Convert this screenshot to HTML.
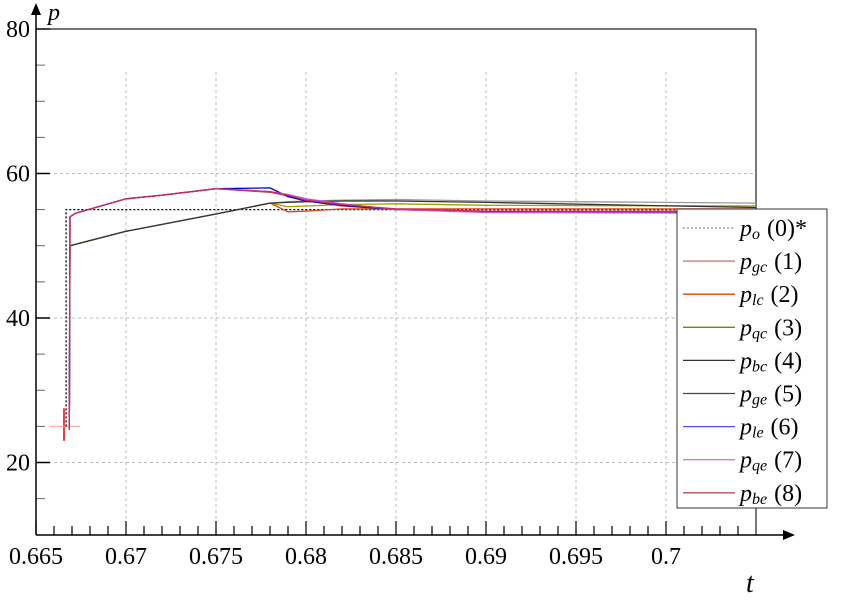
<!DOCTYPE html>
<html><head><meta charset="utf-8"><style>
body{margin:0;background:#fff;width:846px;height:599px;overflow:hidden}
svg, svg text, svg tspan{font-family:"Liberation Serif","Noto Serif CJK SC","DejaVu Serif",serif}
</style></head><body>
<svg id="chart" width="846" height="599" xmlns="http://www.w3.org/2000/svg">
<g id="grid"></g>
<g id="axes"></g>
<g id="series"></g>
<g id="legend"></g>
</svg>
<script>
const xTicks=[0.665,0.67,0.675,0.68,0.685,0.69,0.695,0.7];
const xTickLabels=["0.665","0.67","0.675","0.68","0.685","0.69","0.695","0.7"];
const yTicks=[20,40,60,80];
const yTickLabels=["20","40","60","80"];
const refT=[0.66667,0.66667,0.705];
const refV=[25,55,55];
const tUpper=[0.66685,0.66689,0.6672,0.670,0.672,0.675,0.678,0.679,0.680,0.682,0.685,0.69,0.705];
const tLower=[0.66685,0.66689,0.670,0.675,0.678,0.679,0.680,0.682,0.685,0.69,0.705];
const pgc=[24.5,54,54.5,56.5,57,57.9,57.5,57,56.3,55.7,55.1,54.8,54.7];
const ple=[24.5,54,54.5,56.5,57,57.9,58,56.8,56.2,55.6,55,54.7,54.7];
const pqe=[24.5,54,54.5,56.5,57,57.9,57.5,57.1,56.5,55.8,55,54.6,54.5];
const pbe=[24.5,54,54.5,56.5,57,57.9,57.4,56.9,56.2,55.5,55,54.8,54.8];
const plc=[24.5,50,52,54.4,55.9,54.7,54.8,55.1,55.1,55.1,55.1];
const pqc=[24.5,50,52,54.4,55.9,55.4,55.5,55.7,55.8,55.6,55.5];
const pbc=[24.5,50,52,54.4,55.9,56.1,56.2,56.3,56.4,56.2,55.9];
const pge=[24.5,50,52,54.4,55.9,56,56.1,56.2,56.2,56.0,55.3];
const legendLabels=[["o","(0)*"],["gc","(1)"],["lc","(2)"],["qc","(3)"],["bc","(4)"],["ge","(5)"],["le","(6)"],["qe","(7)"],["be","(8)"]];
const NS="http://www.w3.org/2000/svg";
const FF='"Liberation Serif","Noto Serif CJK SC","DejaVu Serif",serif';
const X=t=>36+(t-0.665)*18000;
const Y=v=>29+(80-v)*7.225;
function mk(tag,attrs,parent){const e=document.createElementNS(NS,tag);for(const k in attrs)e.setAttribute(k,attrs[k]);if(tag==='text')e.style.fontFamily=FF;parent.appendChild(e);return e;}
const grid=document.getElementById('grid'),axes=document.getElementById('axes'),ser=document.getElementById('series'),leg=document.getElementById('legend');
xTicks.forEach((t,i)=>{
 if(i>0){const g=mk('line',{x1:X(t),x2:X(t),y1:72,y2:535,stroke:'#bbb','stroke-dasharray':'3,3'},grid);
 
 }
 const l=mk('text',{x:X(t),y:564,'text-anchor':'middle','font-size':24},axes);l.textContent=xTickLabels[i];
 
 
});
for(let k=0;k<=39;k++){const t=0.665+k*0.001;const x=X(t);if(x>756)break;
 mk('line',{x1:x,x2:x,y1:535,y2:(k%5==0?521:526),stroke:'#000','stroke-width':1.2},axes);}
yTicks.forEach((v,i)=>{
 if(v<80){const g=mk('line',{x1:36,x2:756,y1:Y(v),y2:Y(v),stroke:'#bbb','stroke-dasharray':'3,3'},grid);
 
 }
 mk('line',{x1:36,x2:50,y1:Y(v),y2:Y(v),stroke:'#000','stroke-width':1.5},axes);
 const l=mk('text',{x:30,y:Y(v)+8,'text-anchor':'end','font-size':24},axes);l.textContent=yTickLabels[i];
 
 
});
for(let v=15;v<80;v+=5){if(v%20)mk('line',{x1:36,x2:45,y1:Y(v),y2:Y(v),stroke:'#666','stroke-width':1},axes);}
mk('line',{x1:36,x2:756,y1:29,y2:29,stroke:'#222','stroke-width':1.2},axes);
mk('line',{x1:756,x2:756,y1:29,y2:535,stroke:'#222','stroke-width':1.2},axes);
mk('line',{x1:36,x2:36,y1:535,y2:8,stroke:'#000','stroke-width':1.5},axes);
mk('path',{d:'M36,3 L31,15 L41,15Z',fill:'#000'},axes);
mk('line',{x1:36,x2:790,y1:535,y2:535,stroke:'#000','stroke-width':1.5},axes);
mk('path',{d:'M795,535 L783,530 L783,540Z',fill:'#000'},axes);
const yl=mk('text',{x:48,y:20,'font-size':24,'font-style':'italic'},axes);yl.textContent='p';


const xl=mk('text',{x:746,y:592,'font-size':28,'font-style':'italic'},axes);xl.textContent='t';


mk('line',{x1:64,x2:64,y1:Y(27.5),y2:Y(23),stroke:'#e00','stroke-width':1.5},ser);
mk('line',{x1:50,x2:80,y1:Y(25),y2:Y(25),stroke:'#f99','stroke-width':1},ser);
function line(ts,vs,color,name,extra){const d=ts.map((t,i)=>(i?'L':'M')+X(t).toFixed(1)+','+Y(vs[i]).toFixed(1)).join(' ');
 const p=mk('path',Object.assign({d:d,fill:'none',stroke:color,'stroke-width':1.3},extra||{}),ser);
 
 }
line(refT,refV,'#000','series-po',{'stroke-dasharray':'2,2'});
line(tLower,plc,'#e04010','series-plc');
line(tLower,pqc,'#a0a000','series-pqc');
line(tLower,pbc,'#999','series-pbc');
line(tLower,pge,'#333','series-pge');
line(tUpper,pbe,'#b05050','series-pbe');
line(tUpper,ple,'#0000cc','series-ple');
line(tUpper,pqe,'#d050d0','series-pqe');
line(tUpper,pgc,'#c03060','series-pgc');
const colors=['#888','#c07070','#e04010','#808000','#333','#206020','#5050e0','#e070f0','#b05050'];
const box=mk('rect',{x:677,y:209,width:150,height:299,fill:'#fff',stroke:'#333','stroke-width':1},leg);


legendLabels.forEach((lb,i)=>{const y=228+i*33.1;
 const g=mk('g',{},leg);
 
 
 mk('line',Object.assign({x1:683,x2:735,y1:y,y2:y,stroke:colors[i],'stroke-width':1.3},i==0?{'stroke-dasharray':'2,2'}:{}),g);
 const t=mk('text',{x:740,y:y+8,'font-size':24},g);
 const a=mk('tspan',{'font-style':'italic'},t);a.textContent='p';
 const b=mk('tspan',{'font-style':'italic','font-size':16,dy:3},t);b.textContent=lb[0];
 const c=mk('tspan',{dy:-3,dx:7},t);c.textContent=lb[1];
});
</script>
</body></html>
